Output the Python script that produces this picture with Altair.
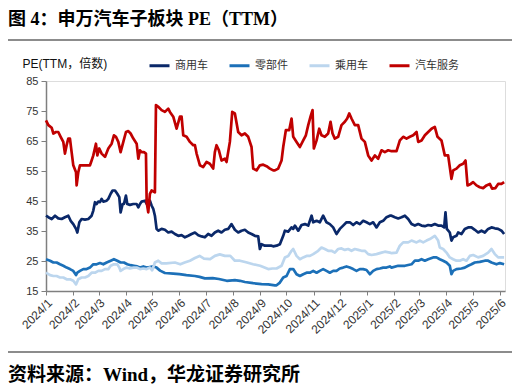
import altair as alt
import pandas as pd

# Day offsets are days since 2024-01-01; values are PE (TTM)
svc_day = [0, 2.7, 6.5, 8.4, 11.4, 14.0, 16.7, 19.7, 21.6, 23.5, 25.4, 27.3, 29.2, 31.1, 34.2, 34.9, 36.8, 38.7,
           42.5, 46.3, 50.1, 52.0, 53.9, 56.9, 58.5, 60.7, 63.4, 67.2, 71.0, 74.8, 77.4, 79.7, 82.4, 85.0, 88.1,
           91.1, 93.8, 96.4, 99.5, 103.3, 105.2, 107.1, 109.0, 111.6, 113.9, 114.7, 116.5, 118.4, 120.3, 124.1,
           125.3, 127.9, 131.7, 135.5, 139.3, 141.2, 145.0, 148.8, 152.6, 154.5, 156.4, 160.2, 164.0, 167.8,
           169.7, 171.6, 175.4, 179.1, 182.9, 186.7, 190.5, 192.4, 194.3, 197.0, 200.0, 203.8, 205.7, 209.5,
           212.2, 215.2, 219.0, 222.8, 226.6, 230.4, 234.2, 236.1, 239.9, 243.7, 247.5, 251.3, 255.1, 258.9,
           260.8, 264.6, 268.4, 270.3, 273.3, 277.1, 279.8, 281.7, 285.5, 289.3, 293.1, 296.1, 298.8, 301.4,
           303.7, 305.2, 308.3, 311.3, 313.9, 317.7, 321.5, 324.2, 326.5, 329.1, 332.9, 336.7, 340.5, 343.2,
           345.5, 348.1, 351.9, 355.7, 359.5, 363.3, 367.1, 370.9, 374.7, 378.5, 382.3, 386.1, 389.9, 393.7,
           399.4, 403.2, 407.0, 410.8, 414.6, 418.4, 422.2, 424.1, 427.9, 431.7, 435.5, 439.3, 443.0, 446.1,
           450.6, 454.4, 458.2, 462.0, 463.9, 467.7, 471.5, 475.3, 478.0, 480.3, 484.0, 486.7, 490.5, 494.3,
           498.1, 501.9, 505.7, 508.3, 512.1, 515.2, 519.0, 522.0]
svc_val = [71.9, 70.3, 69.4, 67.5, 68.0, 68.0, 66.4, 64.7, 60.8, 63.6, 65.8, 65.8, 61.3, 56.9, 54.6, 50.2, 54.6, 56.9,
           56.9, 56.9, 56.9, 58.5, 60.2, 64.1, 60.2, 62.5, 60.8, 59.7, 62.5, 64.1, 66.9, 66.4, 64.7, 61.3, 64.7,
           68.0, 68.3, 67.5, 65.8, 64.1, 59.1, 61.9, 61.3, 61.3, 60.8, 44.6, 41.2, 47.4, 48.5, 47.9,
           77.0, 76.4, 75.3, 74.7, 75.8, 74.7, 73.1, 69.1, 73.1, 73.1, 66.9, 66.4, 64.7, 63.6,
           63.6, 60.8, 56.9, 56.3, 58.0, 57.4, 55.8, 61.3, 63.6, 61.9, 58.5, 59.1, 58.0, 64.7,
           74.7, 74.2, 68.0, 66.9, 67.5, 66.4, 63.0, 55.8, 55.2, 56.9, 57.1, 56.6, 55.8, 55.2,
           55.2, 55.8, 58.5, 63.0, 68.6, 68.6, 72.5, 66.4, 64.7, 63.0, 65.2, 66.9, 70.3, 73.1,
           75.3, 62.5, 65.2, 69.1, 66.9, 66.4, 67.5, 71.4, 67.5, 65.8, 66.4, 70.3, 71.4, 72.5,
           74.2, 72.5, 70.3, 70.3, 65.8, 64.7, 60.2, 58.5, 60.2, 59.1, 61.9, 61.3, 61.9, 61.6,
           61.6, 65.2, 66.4, 65.8, 66.4, 66.9, 68.0, 64.7, 65.2, 66.9, 68.0, 69.1, 69.7, 66.4,
           65.2, 60.2, 60.2, 52.4, 55.2, 55.8, 56.9, 57.4, 58.5, 50.2, 50.7, 51.3, 50.2, 49.6,
           49.3, 50.2, 50.7, 49.1, 49.3, 50.7, 50.7, 51.3]

com_day = [0, 2.7, 6.5, 10.3, 14.0, 17.8, 21.6, 25.4, 28.1, 31.1, 34.2, 35.7, 38.0, 40.6, 44.4, 48.2, 52.0, 53.9,
           55.8, 57.7, 59.6, 61.5, 63.4, 65.3, 69.1, 71.0, 73.7, 75.9, 78.6, 81.2, 83.5, 85.0, 87.3, 88.8, 91.1,
           92.6, 95.7, 99.5, 103.3, 105.2, 107.1, 109.0, 112.8, 114.7, 116.5, 118.4, 120.3, 122.2, 124.1, 126.0,
           127.9, 131.7, 135.5, 139.3, 143.1, 146.9, 150.7, 154.5, 158.3, 162.1, 165.9, 169.7, 173.5, 177.3,
           181.0, 184.8, 188.6, 192.4, 196.2, 200.0, 203.8, 207.6, 211.4, 215.2, 219.0, 222.8, 226.6, 230.4,
           234.2, 238.0, 241.8, 243.7, 245.6, 249.4, 253.2, 257.0, 258.9, 262.7, 266.5, 270.3, 272.2, 276.0,
           279.8, 281.7, 283.6, 287.4, 291.2, 295.0, 298.8, 302.6, 304.5, 308.3, 312.0, 315.8, 319.6, 323.4,
           327.2, 331.0, 334.8, 338.6, 342.4, 346.2, 350.0, 353.8, 357.6, 361.4, 365.2, 369.0, 372.8, 376.6,
           380.4, 384.2, 388.0, 391.8, 393.7, 397.5, 401.3, 405.1, 408.9, 412.7, 416.5, 420.3, 424.1, 427.9,
           431.7, 435.5, 439.3, 443.0, 446.8, 450.6, 453.7, 455.2, 456.7, 460.1, 462.0, 463.9, 467.7, 469.6,
           473.4, 477.2, 481.0, 484.8, 488.6, 492.4, 496.2, 500.0, 503.8, 507.6, 511.4, 515.2, 519.0, 522.0]
com_val = [40.1, 39.6, 39.0, 40.1, 39.2, 39.0, 39.6, 40.1, 38.4, 37.3, 35.7, 34.5, 37.9, 39.0, 38.8, 39.0, 40.1, 41.8,
           44.6, 44.0, 44.8, 44.6, 45.7, 44.8, 45.1, 45.7, 47.4, 48.5, 48.5, 47.4, 46.3, 41.2, 44.0, 44.0, 46.8,
           44.0, 43.7, 44.0, 44.0, 42.9, 44.0, 44.8, 45.1, 44.0, 45.1, 45.1, 43.5, 42.4, 40.1, 35.7,
           35.1, 35.7, 35.4, 34.5, 34.8, 34.0, 33.4, 33.6, 32.9, 33.4, 34.0, 34.5, 33.6, 33.2,
           32.9, 34.0, 33.4, 34.5, 35.1, 34.5, 35.4, 35.7, 37.3, 35.4, 34.5, 35.1, 35.4, 34.5,
           34.0, 33.4, 33.2, 29.0, 30.6, 30.1, 30.1, 30.1, 29.9, 30.1, 30.6, 33.4, 35.1, 34.8,
           36.2, 35.7, 36.8, 35.1, 37.0, 37.3, 36.8, 40.1, 37.9, 38.4, 37.9, 40.1, 37.9, 37.3,
           36.2, 34.0, 35.7, 36.8, 37.9, 37.9, 37.0, 37.9, 37.3, 38.4, 37.9, 37.3, 37.9, 36.2,
           37.9, 38.4, 39.6, 40.1, 40.1, 39.6, 39.2, 39.6, 40.1, 39.0, 37.3, 36.8, 37.3, 36.8,
           36.6, 37.0, 36.8, 37.3, 36.8, 36.8, 36.2, 41.2, 35.7, 34.5, 31.8, 32.9, 33.4, 34.5,
           34.0, 35.7, 36.2, 36.2, 35.4, 34.5, 35.1, 34.5, 35.7, 36.2, 35.9, 35.7, 35.1, 34.0]

parts_day = [0, 4.6, 8.4, 12.1, 15.9, 19.7, 23.5, 27.3, 31.1, 34.2, 35.7, 38.7, 42.5, 46.3, 50.1, 53.9, 57.7, 61.5,
             65.3, 69.1, 73.7, 77.4, 81.2, 85.0, 88.8, 92.6, 96.4, 100.2, 104.0, 107.1, 110.9, 114.7, 118.4, 122.2,
             126.0, 130.0, 135.5, 145.0, 152.0, 160.0, 169.7, 175.0, 181.0, 190.0, 197.0, 206.0, 215.2, 221.0,
             226.6, 236.0, 245.6, 253.2, 260.8, 262.7, 266.5, 270.3, 274.1, 277.9, 281.7, 285.5, 289.3, 293.1,
             296.9, 300.7, 304.5, 308.3, 312.0, 315.8, 319.6, 323.4, 327.2, 331.0, 334.8, 338.6, 342.4, 346.2,
             350.0, 353.8, 357.6, 361.4, 365.2, 369.0, 372.8, 376.6, 380.4, 384.2, 388.0, 391.8, 393.7, 401.3,
             408.9, 416.5, 420.3, 424.1, 427.9, 431.7, 435.5, 441.1, 444.9, 448.7, 452.5, 456.3, 460.1, 462.0,
             463.9, 467.7, 473.4, 477.2, 481.0, 484.8, 488.6, 494.3, 500.0, 503.8, 507.6, 513.3, 517.1, 522.0]
parts_val = [25.6, 25.1, 24.5, 24.5, 23.9, 23.4, 22.8, 22.3, 21.7, 20.3, 21.1, 21.7, 22.3, 22.3, 22.8, 23.9, 23.9, 24.3,
             23.9, 24.5, 25.1, 25.6, 25.1, 24.5, 24.5, 23.9, 23.6, 23.4, 23.2, 22.8, 23.2, 22.8, 23.0, 23.2,
             22.8, 21.8, 21.0, 20.8, 20.6, 20.3, 20.0, 19.7, 19.2, 19.3, 19.0, 18.4, 18.6, 18.4,
             18.0, 17.6, 17.3, 17.2, 16.9, 16.9, 17.8, 19.5, 20.0, 22.3, 22.3, 20.6, 20.0, 20.6,
             21.1, 21.1, 21.7, 21.1, 21.7, 22.3, 21.7, 21.1, 21.7, 21.7, 22.5, 22.8, 23.2, 22.8,
             22.3, 21.7, 22.3, 22.3, 22.0, 20.6, 21.7, 22.3, 22.5, 22.8, 22.8, 23.2, 22.8, 23.4,
             23.4, 23.9, 25.1, 25.1, 25.6, 25.1, 25.6, 26.2, 26.2, 25.6, 25.1, 24.5, 23.4, 20.6,
             21.7, 22.3, 22.5, 22.8, 23.4, 23.9, 24.5, 24.7, 25.1, 25.1, 24.5, 23.9, 24.3, 23.9]

pass_day = [0, 4.6, 8.4, 12.1, 15.9, 19.7, 23.5, 27.3, 31.1, 34.2, 36.8, 40.6, 44.4, 48.2, 52.0, 55.8, 59.6, 63.4,
            67.2, 71.0, 73.7, 77.4, 81.2, 83.5, 85.0, 88.1, 91.8, 95.7, 99.5, 103.3, 107.1, 110.9, 114.7, 118.4,
            121.0, 124.1, 127.9, 131.7, 137.0, 146.9, 153.0, 158.0, 164.0, 169.7, 175.0, 180.0, 187.0, 192.4,
            198.0, 203.8, 210.0, 215.2, 221.0, 228.0, 236.0, 244.0, 253.2, 258.0, 262.7, 268.4, 272.2, 276.0,
            279.8, 281.7, 285.5, 289.3, 293.1, 296.9, 300.7, 304.5, 310.1, 313.9, 317.7, 321.5, 325.3, 329.1,
            332.9, 336.7, 340.5, 344.3, 348.1, 351.9, 355.7, 359.5, 363.3, 367.1, 370.9, 376.6, 382.3, 386.1,
            391.8, 393.7, 399.4, 403.2, 407.0, 412.7, 416.5, 422.2, 426.0, 429.8, 433.6, 437.4, 443.0, 446.8,
            448.7, 452.5, 456.3, 460.1, 463.9, 467.7, 471.5, 475.3, 479.1, 482.9, 486.7, 492.4, 498.1, 503.8,
            507.6, 511.4, 515.2, 522.0]
pass_val = [21.1, 20.3, 20.0, 20.0, 19.5, 19.5, 18.9, 18.9, 18.4, 17.2, 18.9, 19.5, 19.5, 20.0, 21.1, 21.1, 21.7, 21.7,
            22.3, 22.3, 23.4, 23.9, 23.9, 22.8, 21.7, 22.3, 22.8, 22.5, 22.8, 22.8, 22.3, 22.5, 22.3, 22.8,
            21.9, 24.5, 25.1, 24.2, 24.2, 24.5, 23.9, 24.5, 25.1, 26.0, 26.7, 25.8, 25.6, 26.7,
            27.2, 26.7, 26.7, 25.1, 25.1, 24.6, 23.9, 23.4, 22.3, 22.5, 22.5, 23.4, 26.2, 26.7,
            28.4, 29.0, 26.7, 25.6, 26.2, 26.7, 26.7, 27.3, 28.4, 29.5, 29.0, 28.4, 28.4, 27.8,
            29.0, 29.2, 28.7, 29.0, 28.4, 29.0, 28.7, 28.4, 28.4, 27.3, 27.0, 27.3, 27.8, 28.1,
            27.8, 27.6, 27.8, 30.1, 31.2, 31.2, 31.8, 31.2, 31.8, 31.2, 31.8, 32.3, 33.4, 31.8,
            29.5, 29.0, 27.8, 26.2, 25.6, 25.1, 25.1, 25.6, 25.1, 26.7, 27.0, 26.2, 26.7, 27.8,
            29.0, 27.3, 26.2, 26.2]

series_names = ["商用车", "零部件", "乘用车", "汽车服务"]
series_colors = ["#0a2869", "#1c70b8", "#bcd6ee", "#c00000"]
y_ticks = [15, 25, 35, 45, 55, 65, 75, 85]
title_text = "图 4：申万汽车子板块 PE（TTM）"
source_text = "资料来源：Wind，华龙证券研究所"
y_title = "PE(TTM，倍数)"

base = pd.Timestamp("2024-01-01")
frames = []
for name, days, vals in [("商用车", com_day, com_val), ("零部件", parts_day, parts_val),
                         ("乘用车", pass_day, pass_val), ("汽车服务", svc_day, svc_val)]:
    frames.append(pd.DataFrame({
        "date": [base + pd.Timedelta(days=d) for d in days],
        "pe": vals,
        "series": name,
    }))
df = pd.concat(frames, ignore_index=True)

month_ticks = [alt.DateTime(year=2024 + (m // 12), month=(m % 12) + 1, date=1) for m in range(18)]

lines = alt.Chart(df).mark_line(strokeWidth=2.7, strokeJoin="round").encode(
    x=alt.X("date:T",
            scale=alt.Scale(domain=[alt.DateTime(year=2024, month=1, date=1),
                                    alt.DateTime(year=2025, month=6, date=7)]),
            axis=alt.Axis(values=month_ticks, format="%Y/%-m", labelAngle=-45, title=None,
                          labelOverlap=False, labelBound=False,
                          labelFont="Liberation Sans", labelFontSize=12, labelColor="#333333",
                          domainColor="#7f7f7f", domainWidth=1.5, tickColor="#7f7f7f",
                          tickSize=4, grid=False, labelPadding=2)),
    y=alt.Y("pe:Q",
            scale=alt.Scale(domain=[15, 85], nice=False, zero=False),
            axis=alt.Axis(values=y_ticks, title=y_title, titleAngle=0, titleX=-24, titleY=-18,
                          titleAlign="left", titleBaseline="middle", titleFontWeight="normal",
                          titleFont="Liberation Sans, Noto Sans CJK SC", titleFontSize=12,
                          titleColor="#111111",
                          labelFont="Liberation Sans", labelFontSize=11, labelColor="#333333",
                          domainColor="#7f7f7f", domainWidth=1.5, tickColor="#7f7f7f",
                          tickSize=5, grid=False, labelPadding=3)),
    color=alt.Color("series:N",
                    scale=alt.Scale(domain=series_names, range=series_colors),
                    legend=alt.Legend(orient="none", legendX=102, legendY=-27, direction="horizontal",
                                      title=None, symbolType="stroke", symbolStrokeWidth=3,
                                      symbolSize=400, labelFont="Noto Sans CJK SC", labelFontSize=11,
                                      labelColor="#333333", columnPadding=15, labelOffset=4)),
    detail="series:N",
    order=alt.Order("date:T"),
)

title_mark = alt.Chart(pd.DataFrame({"t": [title_text]})).mark_text(
    align="left", baseline="alphabetic", fontSize=18, fontWeight="bold",
    font="Liberation Serif, Noto Sans CJK SC", color="#000000"
).encode(x=alt.value(-38), y=alt.value(-56), text="t:N")

source_mark = alt.Chart(pd.DataFrame({"t": [source_text]})).mark_text(
    align="left", baseline="middle", fontSize=19, fontWeight="bold",
    font="Liberation Serif, Noto Sans CJK SC", color="#000000"
).encode(x=alt.value(-38), y=alt.value(294), text="t:N")

top_rule = alt.Chart(pd.DataFrame({"a": [0]})).mark_rule(color="#8c8c8c", strokeWidth=2).encode(
    x=alt.value(-41), x2=alt.value(469), y=alt.value(-41))
bottom_rule = alt.Chart(pd.DataFrame({"a": [0]})).mark_rule(color="#8c8c8c", strokeWidth=2).encode(
    x=alt.value(-41), x2=alt.value(469), y=alt.value(271))

chart = alt.layer(lines, title_mark, source_mark, top_rule, bottom_rule).properties(
    width=459, height=210,
    autosize=alt.AutoSizeParams(type="none"),
    padding={"left": 38, "top": 73, "right": 7, "bottom": 93},
).configure_view(stroke=None).configure(background="white")

chart.save("out.html", embed_options={"renderer": "svg", "actions": False})
